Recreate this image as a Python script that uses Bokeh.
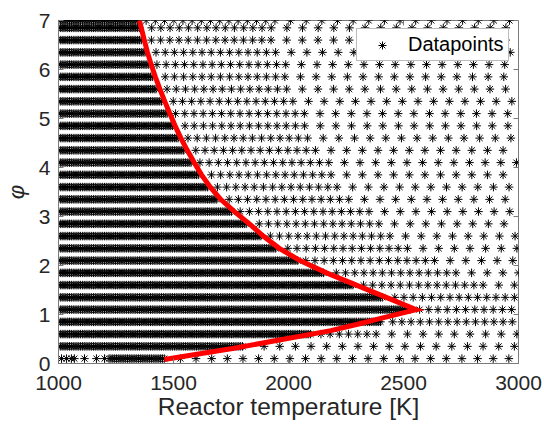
import numpy as np
from bokeh.plotting import figure
from bokeh.models import ColumnDataSource, Legend, LegendItem, FixedTicker, Range1d
from bokeh.embed import file_html
from bokeh.resources import INLINE

# Equivalence-ratio rows of the sampled grid
PHI_ROWS = [0.1, 0.35, 0.6, 0.85, 1.1, 1.35, 1.6, 1.85, 2.1, 2.35, 2.6, 2.85,
            3.1, 3.35, 3.6, 3.85, 4.1, 4.35, 4.6, 4.85, 5.1, 5.35, 5.6, 5.85,
            6.1, 6.35, 6.6, 6.85, 7.0]
# Densely sampled temperature band of each row [K]
DENSE_START = [1220] + [1000] * 28
DENSE_END = [1460, 1800, 2100, 2400, 2535, 2415, 2285, 2155, 2040, 1950, 1880, 1820,
             1755, 1695, 1650, 1612, 1580, 1550, 1522, 1497, 1474, 1452, 1431, 1411,
             1393, 1377, 1363, 1352, 1346]
DENSE_STEP = 8
# Coarser sampling right of the dense band [K]
NEAR_SPAN = [0, 0, 300, 600, 600, 600, 600, 600, 600, 600, 600, 600,
             600, 600, 600, 600, 600, 600, 600, 600, 600, 600, 600, 600,
             600, 600, 600, 600, 600]
NEAR_STEP = 40
FAR_STEP = 68
ROW_SHIFT = [0, 24, 12, 36]
# Extra low-temperature samples on the leanest row [K]
LEAN_EXTRA_T = [1013, 1035, 1056, 1069, 1113, 1165, 1200]

# Boundary curve (temperature [K], phi)
CURVE_T = [1460, 1750, 1960, 2184, 2300, 2401, 2555, 2425, 2295, 2165, 2050, 1960,
           1890, 1830, 1765, 1705, 1660, 1622, 1590, 1560, 1532, 1507, 1484, 1462,
           1441, 1421, 1403, 1387, 1373, 1360, 1352]
CURVE_PHI = [0.08, 0.3, 0.48, 0.67, 0.8, 0.92, 1.1, 1.35, 1.6, 1.85, 2.1, 2.35,
             2.6, 2.85, 3.1, 3.35, 3.6, 3.85, 4.1, 4.35, 4.6, 4.85, 5.1, 5.35,
             5.6, 5.85, 6.1, 6.35, 6.6, 6.85, 7.0]

X_TICKS = [1000, 1500, 2000, 2500, 3000]
Y_TICKS = [0, 1, 2, 3, 4, 5, 6, 7]
X_LIM = (1000, 3000)
Y_LIM = (0, 7)

xs, ys = [], []
for i, phi in enumerate(PHI_ROWS):
    t0, t1 = DENSE_START[i], DENSE_END[i]
    temps = list(np.arange(t0, t1 + 0.1, DENSE_STEP))
    shift = ROW_SHIFT[i % len(ROW_SHIFT)]
    t = t1 + 35 + shift * 0.5
    if NEAR_SPAN[i] > 0:
        near = np.arange(t, min(t1 + NEAR_SPAN[i], 3001), NEAR_STEP)
        temps += list(near)
        t = (near[-1] if len(near) else t) + FAR_STEP
    else:
        t = t1 + 70 + shift
    temps += list(np.arange(t, 3001, FAR_STEP))
    if i == 0:
        temps += LEAN_EXTRA_T
    xs += temps
    ys += [phi] * len(temps)

src = ColumnDataSource(dict(T=xs, phi=ys))
curve = ColumnDataSource(dict(T=CURVE_T, phi=CURVE_PHI))

FONT = "Liberation Sans"
INK = "#262626"
EDGE = "#7a7a7a"

p = figure(width=544, height=430, output_backend="svg", toolbar_location=None,
           x_range=Range1d(*X_LIM), y_range=Range1d(*Y_LIM),
           min_border_left=57, min_border_right=26, min_border_top=20,
           min_border_bottom=67, background_fill_color="white",
           border_fill_color="white")
p.outline_line_color = EDGE
p.outline_line_width = 1
p.grid.visible = False

pts = p.scatter("T", "phi", source=src, marker="asterisk", size=8.5,
                line_color="black", line_width=1.0)
p.line("T", "phi", source=curve, line_color="#ff0000", line_width=5,
       line_join="miter")

for ax, ticks in ((p.xaxis[0], X_TICKS), (p.yaxis[0], Y_TICKS)):
    ax.ticker = FixedTicker(ticks=ticks)
    ax.major_tick_in = 5
    ax.major_tick_out = 0
    ax.minor_tick_line_color = None
    ax.axis_line_color = EDGE
    ax.major_tick_line_color = EDGE
    ax.major_label_text_font = FONT
    ax.major_label_text_font_size = "21px"
    ax.major_label_text_color = INK
    ax.axis_label_text_color = INK
    ax.axis_label_text_font = FONT

p.xaxis.axis_label = "Reactor temperature [K]"
p.xaxis.axis_label_text_font_size = "24.5px"
p.xaxis.axis_label_text_font_style = "normal"
p.xaxis.major_label_standoff = 12
p.xaxis.axis_label_standoff = 0

p.yaxis.axis_label = "φ"
p.yaxis.axis_label_text_font_size = "22px"
p.yaxis.axis_label_text_font_style = "italic"
p.yaxis.major_label_standoff = 8
p.yaxis.axis_label_standoff = 7

# Inward box ticks on the top and right edges (5 px long)
x_tick_len = 5 * (X_LIM[1] - X_LIM[0]) / 461
y_tick_len = 5 * (Y_LIM[1] - Y_LIM[0]) / 343
p.segment(x0=X_TICKS, x1=X_TICKS, y0=[Y_LIM[1]] * len(X_TICKS),
          y1=[Y_LIM[1] - y_tick_len] * len(X_TICKS), line_color=EDGE, line_width=1)
p.segment(x0=[X_LIM[1]] * len(Y_TICKS), x1=[X_LIM[1] - x_tick_len] * len(Y_TICKS),
          y0=Y_TICKS, y1=Y_TICKS, line_color=EDGE, line_width=1)

legend = Legend(items=[LegendItem(label="Datapoints", renderers=[pts])],
                location=(298, 302), padding=4, margin=0, spacing=0,
                glyph_width=42, glyph_height=20, label_height=20, label_standoff=5,
                label_text_font=FONT, label_text_font_size="20px",
                label_text_color="black", border_line_color=EDGE,
                border_line_width=1, background_fill_color="white",
                background_fill_alpha=1.0)
p.add_layout(legend, "center")

open("out.html", "w").write(file_html(p, INLINE))
